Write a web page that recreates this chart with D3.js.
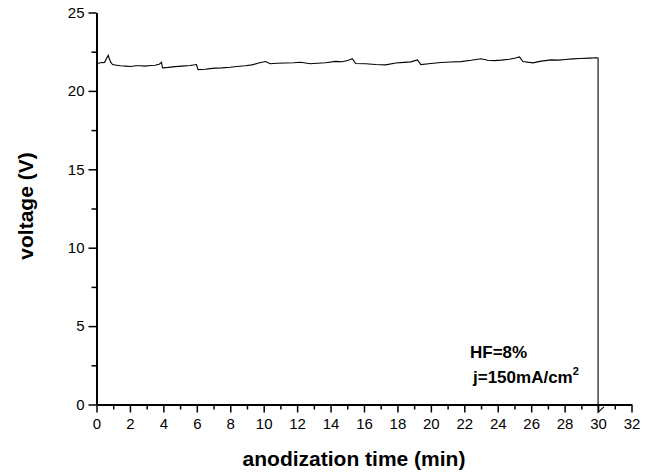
<html>
<head>
<script src="https://d3js.org/d3.v7.min.js"></script>
<style>
  body { margin: 0; background: #fff; }
  text { font-family: Arial, "Liberation Sans", sans-serif; }
</style>
</head>
<body>
<svg width="653" height="474"></svg>
<script>
// anodization time (min)
var time = [0, 0.24, 0.48, 0.7, 0.84, 0.96, 1.2, 1.44, 1.75, 2.03, 2.35, 2.63, 2.9, 3.23, 3.5, 3.75, 3.89, 3.95,
  4.3, 4.7, 5.1, 5.6, 5.98, 6.07, 6.5, 6.8, 7.1, 7.5, 8.0, 8.4, 8.9, 9.3, 9.7, 10.1, 10.4, 10.8, 11.3, 11.8, 12.2,
  12.8, 13.2, 13.7, 14.3, 14.7, 15.07, 15.3, 15.5, 16.1, 16.7, 17.3, 17.9, 18.4, 18.8, 19.2, 19.4, 20.0, 20.6,
  21.2, 21.8, 22.4, 23.0, 23.4, 23.8, 24.2, 24.7, 25.06, 25.3, 25.5, 26.1, 26.6, 27.2, 27.6, 28.05, 28.5, 28.9,
  29.5, 29.9, 30.0, 30.0, 30.35];
// voltage (V)
var voltage = [21.73, 21.8, 21.82, 22.26, 21.85, 21.68, 21.64, 21.6, 21.58, 21.56, 21.6, 21.6, 21.58, 21.62, 21.64, 21.7, 21.82, 21.47,
  21.5, 21.55, 21.58, 21.62, 21.68, 21.36, 21.38, 21.42, 21.45, 21.47, 21.51, 21.56, 21.6, 21.66, 21.78, 21.87, 21.73, 21.76, 21.78, 21.8, 21.83,
  21.73, 21.76, 21.8, 21.88, 21.86, 21.95, 22.05, 21.75, 21.73, 21.68, 21.66, 21.78, 21.82, 21.85, 21.98, 21.68, 21.75, 21.81,
  21.84, 21.87, 21.95, 22.05, 21.95, 21.93, 21.96, 22.02, 22.1, 22.17, 21.87, 21.79, 21.9, 21.98, 21.96, 22.0, 22.04, 22.07,
  22.09, 22.11, 22.1, -0.5, -0.15];

var xMajor = d3.range(0, 33, 2);
var xMinor = d3.range(1, 32, 2);
var yMajor = [0, 5, 10, 15, 20, 25];
var yMinor = [2.5, 7.5, 12.5, 17.5, 22.5];

var svg = d3.select("svg");
var x = d3.scaleLinear().domain([0, 32]).range([96.5, 631.5]);
var y = d3.scaleLinear().domain([0, 25]).range([404.5, 12.5]);

// minor ticks
svg.append("g")
  .attr("transform", "translate(0,404.5)")
  .call(d3.axisBottom(x).tickValues(xMinor).tickSize(5).tickFormat(""))
  .call(g => g.select(".domain").remove());
svg.append("g")
  .attr("transform", "translate(96.5,0)")
  .call(d3.axisLeft(y).tickValues(yMinor).tickSize(5).tickFormat(""))
  .call(g => g.select(".domain").remove());

// major ticks + labels
var xAxis = svg.append("g")
  .attr("transform", "translate(0,404.5)")
  .call(d3.axisBottom(x).tickValues(xMajor).tickSize(8).tickSizeOuter(0).tickPadding(6));
var yAxis = svg.append("g")
  .attr("transform", "translate(96.5,0)")
  .call(d3.axisLeft(y).tickValues(yMajor).tickSize(8).tickSizeOuter(0).tickPadding(4));

svg.selectAll(".tick line").attr("stroke", "#000").attr("stroke-width", 1.5);
svg.selectAll(".domain").attr("stroke", "#000").attr("stroke-width", 2);
svg.selectAll(".tick text").attr("font-size", 15).attr("fill", "#000")
  .attr("font-family", "Arial, 'Liberation Sans', sans-serif");

// data line
var line = d3.line()
  .x((d, i) => x(time[i]))
  .y(d => y(d));
svg.append("path")
  .datum(voltage)
  .attr("d", line)
  .attr("fill", "none")
  .attr("stroke", "#000")
  .attr("stroke-width", 1.1);

// axis titles
svg.append("text")
  .attr("x", 354).attr("y", 466)
  .attr("text-anchor", "middle")
  .attr("font-size", 21).attr("font-weight", "bold")
  .text("anodization time (min)");
svg.append("text")
  .attr("transform", "translate(33,206) rotate(-90)")
  .attr("text-anchor", "middle")
  .attr("font-size", 21).attr("font-weight", "bold")
  .text("voltage (V)");

// annotation
svg.append("text")
  .attr("x", 470).attr("y", 358)
  .attr("font-size", 17).attr("font-weight", "bold")
  .text("HF=8%");
var ann = svg.append("text")
  .attr("x", 473).attr("y", 383)
  .attr("font-size", 17).attr("font-weight", "bold");
ann.append("tspan").text("j=150mA/cm");
ann.append("tspan").attr("dy", -8).attr("font-size", 11).text("2");
</script>
</body>
</html>
